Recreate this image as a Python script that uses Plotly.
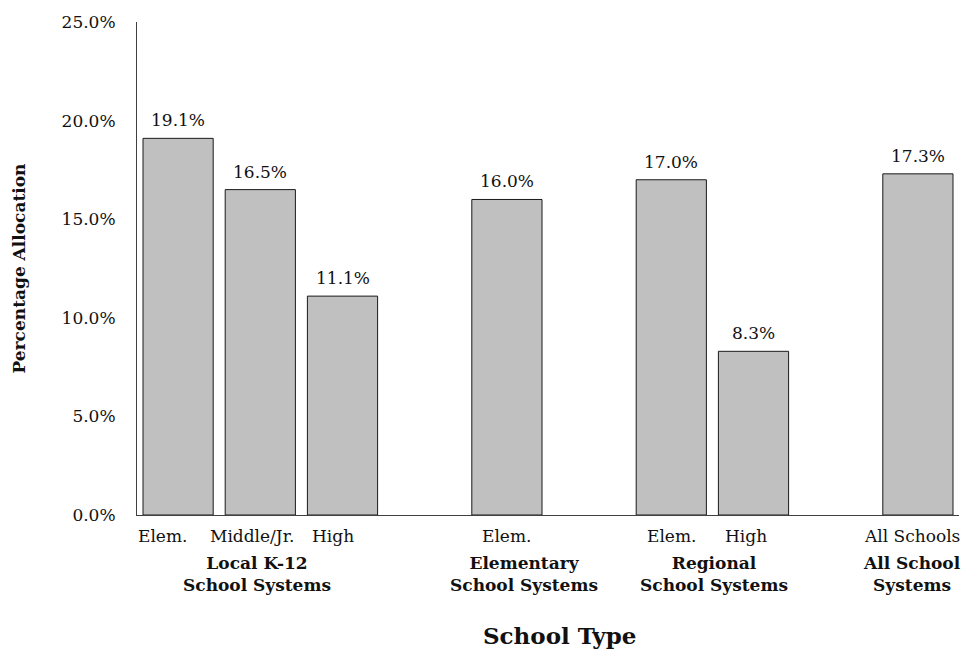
import plotly.graph_objects as go

# School system groups, the school levels within each, and their allocation (%)
groups = ["Local K-12<br>School Systems", "Elementary<br>School Systems",
          "Regional<br>School Systems", "All School<br>Systems"]
levels = [["Elem.", "Middle/Jr.", "High"], ["Elem."], ["Elem.", "High"], ["All Schools"]]
allocation = [[19.1, 16.5, 11.1], [16.0], [17.0, 8.3], [17.3]]
y_ticks = [0, 5, 10, 15, 20, 25]

FONT = "DejaVu Serif"

# Lay the bars out on a slot axis with one empty slot between groups
xs, vals, labs, group_centers = [], [], [], []
pos = 0
for lv, vv in zip(levels, allocation):
    start = pos
    for l, v in zip(lv, vv):
        xs.append(pos)
        vals.append(v)
        labs.append(l)
        pos += 1
    group_centers.append((start + pos - 1) / 2)
    pos += 1
last_slot = xs[-1]

fig = go.Figure(go.Bar(
    x=xs, y=vals, width=0.854,
    marker=dict(color="#C0C0C0", line=dict(color="#1a1a1a", width=1)),
    hoverinfo="skip",
))

ann = []
# value labels above the bars
for x, v in zip(xs, vals):
    ann.append(dict(x=x, y=v, xref="x", yref="y", text=f"{v:.1f}%",
                    showarrow=False, yanchor="bottom", yshift=6,
                    font=dict(family=FONT, size=17, color="#111")))
# school level labels under the bars
level_shift = [-16, -8, -10, 0, 0, -8, -6]
for x, l, s in zip(xs, labs, level_shift):
    ann.append(dict(x=x, y=0, xref="x", yref="paper", text=l, showarrow=False,
                    yanchor="middle", yshift=-21, xshift=s,
                    font=dict(family=FONT, size=17, color="#111")))
# group labels
group_shift = [-3, 17, 2, -6]
for c, g, s in zip(group_centers, groups, group_shift):
    ann.append(dict(x=c, y=0, xref="x", yref="paper", text=f"<b>{g}</b>",
                    showarrow=False, yanchor="middle", yshift=-59, xshift=s,
                    font=dict(family=FONT, size=17, color="#111")))
# axis titles
ann.append(dict(x=0.5, y=0, xref="paper", yref="paper", text="<b>School Type</b>",
                showarrow=False, yanchor="middle", yshift=-120, xshift=11,
                font=dict(family=FONT, size=23, color="#111")))
ann.append(dict(x=0, y=0.5, xref="paper", yref="paper",
                text="<b>Percentage Allocation</b>", textangle=-90,
                showarrow=False, xanchor="center", xshift=-119,
                font=dict(family=FONT, size=17, color="#111")))

fig.update_layout(
    width=972, height=653,
    margin=dict(l=137, r=13, t=17, b=138),
    paper_bgcolor="white", plot_bgcolor="white",
    showlegend=False,
    annotations=ann,
    xaxis=dict(range=[-0.5, last_slot + 0.5], showticklabels=False, ticks="",
               showgrid=False, zeroline=False, showline=True,
               linecolor="#404040", linewidth=1),
    yaxis=dict(range=[0, 25], tickvals=y_ticks,
               ticktext=[f"{t:.1f}%" for t in y_ticks],
               ticks="", ticklabelstandoff=17, showgrid=False, zeroline=False,
               showline=True, linecolor="#404040", linewidth=1,
               tickfont=dict(family=FONT, size=17, color="#111")),
)

fig.write_html("out.html")
